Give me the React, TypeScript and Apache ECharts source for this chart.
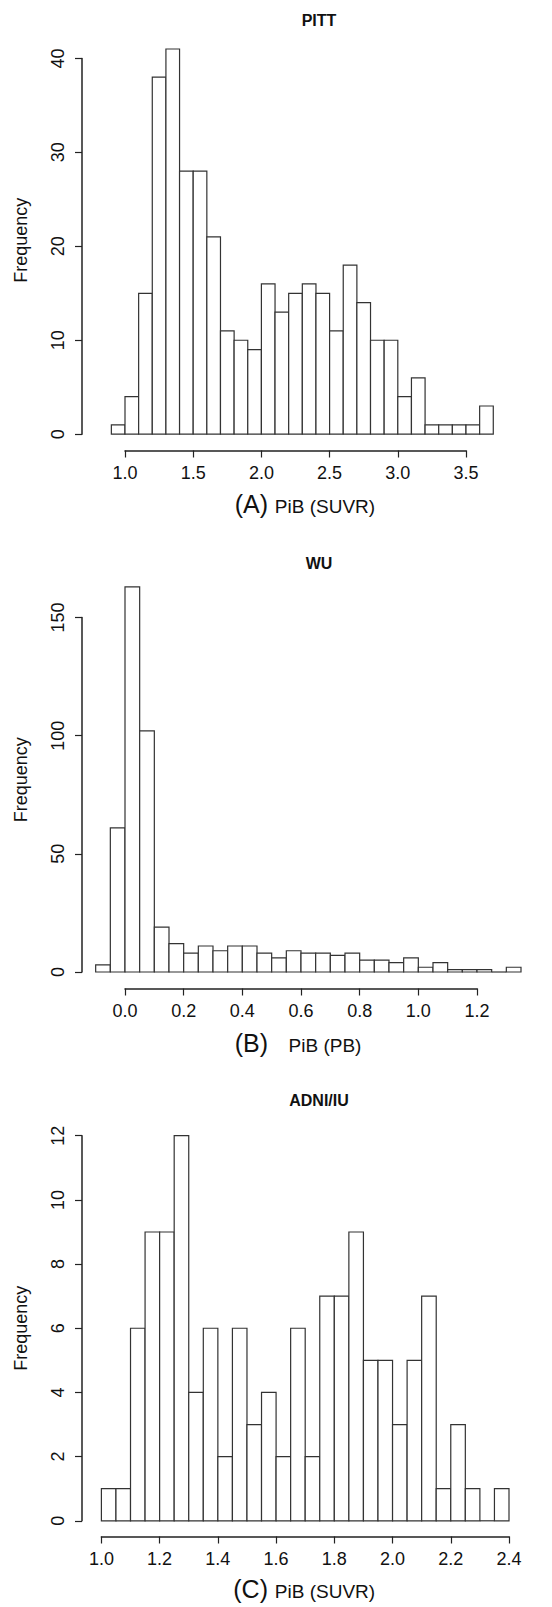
import React, { useEffect, useRef } from "react";
import * as echarts from "echarts";

const W = 552;
const H = 1607;
const FONT = "'Liberation Sans', Arial, Helvetica, sans-serif";
const LINE = "#333333";
const AXIS = "#222222";
const TEXT = "#111111";

// ---------- Data ----------
// (A) PITT — PiB (SUVR), bins of 0.1 starting at 0.9
const pittTitle = "PITT";
const pittBinStart = 0.9;
const pittBinWidth = 0.1;
const pittCounts = [1, 4, 15, 38, 41, 28, 28, 21, 11, 10, 9, 16, 13, 15, 16, 15, 11, 18, 14, 10, 10, 4, 6, 1, 1, 1, 1, 3];
const pittXTicks = [1.0, 1.5, 2.0, 2.5, 3.0, 3.5];
const pittYTicks = [0, 10, 20, 30, 40];

// (B) WU — PiB (PB), bins of 0.05 starting at -0.1
const wuTitle = "WU";
const wuBinStart = -0.1;
const wuBinWidth = 0.05;
const wuCounts = [3, 61, 163, 102, 19, 12, 8, 11, 9, 11, 11, 8, 6, 9, 8, 8, 7, 8, 5, 5, 4, 6, 2, 4, 1, 1, 1, 0, 2];
const wuXTicks = [0.0, 0.2, 0.4, 0.6, 0.8, 1.0, 1.2];
const wuYTicks = [0, 50, 100, 150];

// (C) ADNI/IU — PiB (SUVR), bins of 0.05 starting at 1.0
const adniTitle = "ADNI/IU";
const adniBinStart = 1.0;
const adniBinWidth = 0.05;
const adniCounts = [1, 1, 6, 9, 9, 12, 4, 6, 2, 6, 3, 4, 2, 6, 2, 7, 7, 9, 5, 5, 3, 5, 7, 1, 3, 1, 0, 1];
const adniXTicks = [1.0, 1.2, 1.4, 1.6, 1.8, 2.0, 2.2, 2.4];
const adniYTicks = [0, 2, 4, 6, 8, 10, 12];

const yLabel = "Frequency";

// ---------- Layout (pixels) ----------
type Layout = {
  left: number; right: number; top: number; bottom: number;
  xa: [number, number]; xb: [number, number];
  ya: [number, number]; yb: [number, number];
  titleY: number; labelY: number; centerX: number;
};

const layoutA: Layout = { left: 82, right: 540, top: 30, bottom: 450.5, xa: [1.0, 125], xb: [3.5, 466], ya: [0, 434.2], yb: [40, 58.4], titleY: 20.5, labelY: 506, centerX: 319 };
const layoutB: Layout = { left: 82, right: 540, top: 571, bottom: 988.5, xa: [0.0, 125], xb: [1.2, 477], ya: [0, 972], yb: [150, 617.5], titleY: 563, labelY: 1045, centerX: 319 };
const layoutC: Layout = { left: 82, right: 540, top: 1120, bottom: 1536.5, xa: [1.0, 101.4], xb: [2.4, 509], ya: [0, 1520.8], yb: [12, 1135.7], titleY: 1100, labelY: 1591, centerX: 319 };

type Panel = {
  title: string; tag: string; xlab: string;
  binStart: number; binWidth: number; counts: number[];
  xTicks: number[]; yTicks: number[]; L: Layout;
};

const panels: Panel[] = [
  { title: pittTitle, tag: "(A)", xlab: "PiB (SUVR)", binStart: pittBinStart, binWidth: pittBinWidth, counts: pittCounts, xTicks: pittXTicks, yTicks: pittYTicks, L: layoutA },
  { title: wuTitle, tag: "(B)", xlab: "PiB (PB)", binStart: wuBinStart, binWidth: wuBinWidth, counts: wuCounts, xTicks: wuXTicks, yTicks: wuYTicks, L: layoutB },
  { title: adniTitle, tag: "(C)", xlab: "PiB (SUVR)", binStart: adniBinStart, binWidth: adniBinWidth, counts: adniCounts, xTicks: adniXTicks, yTicks: adniYTicks, L: layoutC },
];

function scales(L: Layout) {
  const xs = (L.xb[1] - L.xa[1]) / (L.xb[0] - L.xa[0]);
  const ys = (L.ya[1] - L.yb[1]) / (L.yb[0] - L.ya[0]);
  const xmin = L.xa[0] - (L.xa[1] - L.left) / xs;
  const xmax = L.xa[0] + (L.right - L.xa[1]) / xs;
  const ymin = L.ya[0] - (L.bottom - L.ya[1]) / ys;
  const ymax = L.ya[0] + (L.ya[1] - L.top) / ys;
  const px = (v: number) => L.xa[1] + (v - L.xa[0]) * xs;
  const py = (v: number) => L.ya[1] - (v - L.ya[0]) * ys;
  return { xmin, xmax, ymin, ymax, px, py };
}

function buildOption() {
  const grid: any[] = [];
  const xAxis: any[] = [];
  const yAxis: any[] = [];
  const series: any[] = [];
  const graphic: any[] = [];

  panels.forEach((p, i) => {
    const L = p.L;
    const r = scales(L);
    grid.push({ left: L.left, top: L.top, width: L.right - L.left, height: L.bottom - L.top, containLabel: false });
    xAxis.push({
      type: "value", gridIndex: i, min: r.xmin, max: r.xmax,
      axisLine: { show: false, onZero: false },
      splitLine: { show: false },
      axisTick: { show: true, length: 7, customValues: p.xTicks, lineStyle: { color: AXIS, width: 1.2 } },
      axisLabel: { customValues: p.xTicks, formatter: (v: number) => v.toFixed(1), margin: 13, fontSize: 18, color: TEXT, fontFamily: FONT },
    });
    yAxis.push({
      type: "value", gridIndex: i, min: r.ymin, max: r.ymax,
      axisLine: { show: false, onZero: false },
      splitLine: { show: false },
      axisTick: { show: true, length: 7, customValues: p.yTicks, lineStyle: { color: AXIS, width: 1.2 } },
      axisLabel: { customValues: p.yTicks, formatter: (v: number) => String(Math.round(v)), rotate: 90, margin: 15, fontSize: 18, color: TEXT, fontFamily: FONT },
    });

    const data = p.counts.map((c, k) => [p.binStart + k * p.binWidth, p.binStart + (k + 1) * p.binWidth, c]);
    series.push({
      type: "custom", xAxisIndex: i, yAxisIndex: i, data, silent: true, clip: false,
      encode: { x: [0, 1], y: 2 },
      renderItem: (params: any, api: any) => {
        const x0 = api.value(0), x1 = api.value(1), c = api.value(2);
        const pTop = api.coord([x0, c]);
        const pBot = api.coord([x1, 0]);
        if (c === 0) {
          return { type: "rect", shape: { x: pTop[0], y: pBot[1] - 0.6, width: pBot[0] - pTop[0], height: 1.2 }, style: { fill: LINE, stroke: "none" } };
        }
        return {
          type: "rect",
          shape: { x: pTop[0], y: pTop[1], width: pBot[0] - pTop[0], height: pBot[1] - pTop[1] },
          style: { fill: "#ffffff", stroke: LINE, lineWidth: 1.2 },
        };
      },
    });

    graphic.push({
      type: "text", x: L.centerX, y: L.titleY,
      style: { text: p.title, fill: TEXT, font: `bold 16px ${FONT}`, textAlign: "center", textVerticalAlign: "middle" },
    });
    graphic.push({
      type: "text", x: 20.5, y: (L.top + L.bottom) / 2, rotation: Math.PI / 2,
      style: { text: yLabel, fill: TEXT, font: `18px ${FONT}`, textAlign: "center", textVerticalAlign: "middle" },
    });
    graphic.push({
      type: "text", x: 268, y: L.labelY - 2,
      style: { text: p.tag, fill: TEXT, font: `25px ${FONT}`, textAlign: "right", textVerticalAlign: "middle" },
    });
    graphic.push({
      type: "text", x: 325, y: L.labelY,
      style: { text: p.xlab, fill: TEXT, font: `19px ${FONT}`, textAlign: "center", textVerticalAlign: "middle" },
    });
  });

  // R-style axis lines: extra grids spanning exactly first..last tick, showing only the native axis line
  panels.forEach((p, i) => {
    const L = p.L;
    const r = scales(L);
    const xF = p.xTicks[0], xL = p.xTicks[p.xTicks.length - 1];
    const yF = p.yTicks[0], yL = p.yTicks[p.yTicks.length - 1];
    const hidden = { show: false };
    const gx = grid.length;
    grid.push({ left: r.px(xF), width: r.px(xL) - r.px(xF), top: L.bottom - 10, height: 10, containLabel: false });
    xAxis.push({ type: "value", gridIndex: gx, min: xF, max: xL, position: "bottom", axisLine: { show: true, onZero: false, lineStyle: { color: AXIS, width: 1.5 } }, axisTick: hidden, axisLabel: hidden, splitLine: hidden });
    yAxis.push({ type: "value", gridIndex: gx, min: 0, max: 1, axisLine: { show: false }, axisTick: hidden, axisLabel: hidden, splitLine: hidden });
    const gy = grid.length;
    grid.push({ left: L.left, width: 10, top: r.py(yL), height: r.py(yF) - r.py(yL), containLabel: false });
    xAxis.push({ type: "value", gridIndex: gy, min: 0, max: 1, axisLine: { show: false }, axisTick: hidden, axisLabel: hidden, splitLine: hidden });
    yAxis.push({ type: "value", gridIndex: gy, min: yF, max: yL, position: "left", axisLine: { show: true, onZero: false, lineStyle: { color: AXIS, width: 1.5 } }, axisTick: hidden, axisLabel: hidden, splitLine: hidden });
  });

  return { animation: false, backgroundColor: "#ffffff", grid, xAxis, yAxis, series, graphic };
}

export default function App() {
  const ref = useRef<HTMLDivElement>(null);
  useEffect(() => {
    document.body.style.margin = "0";
    if (!ref.current) return;
    const chart = echarts.init(ref.current, undefined, { renderer: "svg", width: W, height: H });
    chart.setOption(buildOption() as any);
    return () => chart.dispose();
  }, []);
  return <div ref={ref} style={{ position: "absolute", left: 0, top: 0, width: W, height: H, background: "#fff" }} />;
}
